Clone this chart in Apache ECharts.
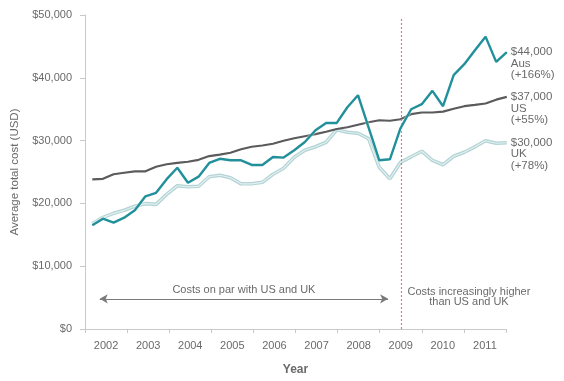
<!DOCTYPE html>
<html><head><meta charset="utf-8">
<script src="https://cdn.jsdelivr.net/npm/echarts@6/dist/echarts.min.js"></script>
<style>html,body{margin:0;padding:0;background:#fff}#c{width:564px;height:381px}</style>
</head><body><div id="c"></div>
<script>
// Categories
var years = ['2002','2003','2004','2005','2006','2007','2008','2009','2010','2011'];
var quarterNames = ['Q1','Q2','Q3','Q4'];
// Quarterly average total cost (USD)
var aus = [16560,17620,16990,17780,18950,21170,21730,23900,25710,23320,
           24300,26480,27140,26900,26900,26160,26160,27430,27330,28500,
           29820,31680,32840,32840,35340,37250,32080,26900,27060,32000,
           35020,35820,37940,35500,40430,42180,44400,46560,42550,44100];
var us  = [23880,23960,24680,24920,25150,25150,25870,26270,26480,26670,
           26980,27570,27810,28100,28660,29050,29250,29530,30010,30410,
           30730,31050,31440,31870,32160,32560,32950,33270,33190,33430,
           34230,34500,34500,34630,35100,35500,35710,35930,36540,36980];
var uk  = [16800,17830,18470,18950,19590,20010,19900,21490,22850,22690,
           22770,24280,24520,24120,23160,23160,23400,24680,25630,27400,
           28500,29050,29770,31760,31360,31200,30330,25790,23960,26590,
           27460,28340,26900,26190,27540,28180,29050,30010,29610,29690];
var endLabels = {
  aus: ['$44,000','Aus','(+166%)'],
  us:  ['$37,000','US','(+55%)'],
  uk:  ['$30,000','UK','(+78%)']
};
var arrowSpan = [2002.35, 2009.2];
var arrowLevel = 4800;
var dividerYear = 2009.5;
var dividerTop = 49500;
var noteAnchor = [2011.12, 4800];

var quarters = [];
years.forEach(function(y){ quarterNames.forEach(function(q){ quarters.push(y+' '+q); }); });

var FONT = 'Liberation Sans';
var TXT = '#6a6a6a';

function endLbl(lines){
  return {show:true, formatter: lines.join('\n'), distance:4, color:TXT,
          fontFamily:FONT, fontSize:11.5, lineHeight:11.5, offset:[0,11.5], align:'left'};
}

var chart = echarts.init(document.getElementById('c'), null, {renderer:'canvas'});
chart.setOption({
  animation:false,
  textStyle:{fontFamily:FONT},
  grid:[
    {left:85, right:58, top:15, bottom:51.5, containLabel:false},
    {left:92.3, right:57.2, top:15, bottom:51.5, containLabel:false}
  ],
  xAxis:[
    {type:'category', gridIndex:0, data:years, boundaryGap:true,
     axisLine:{lineStyle:{color:'#c9c9c9', width:1}},
     axisTick:{show:true, length:4, interval:0, lineStyle:{color:'#c9c9c9'}},
     axisLabel:{color:TXT, fontSize:11, fontFamily:FONT, margin:11},
     name:'Year', nameLocation:'middle', nameGap:35,
     nameTextStyle:{color:TXT, fontSize:12, fontWeight:'bold', fontFamily:FONT}},
    {type:'category', gridIndex:1, data:quarters, boundaryGap:false, show:false},
    {type:'value', gridIndex:0, min:2002, max:2012, show:false}
  ],
  yAxis:[
    {type:'value', gridIndex:0, min:0, max:50000, interval:10000,
     axisLine:{show:true, lineStyle:{color:'#c9c9c9', width:1}},
     axisTick:{show:true, length:5, lineStyle:{color:'#c9c9c9'}},
     splitLine:{show:false},
     axisLabel:{color:TXT, fontSize:11, fontFamily:FONT, margin:13,
       formatter:function(v){ return '$'+v.toLocaleString('en-US'); }},
     name:'Average total cost (USD)', nameLocation:'middle', nameGap:64,
     nameTextStyle:{color:TXT, fontSize:11.5, fontFamily:FONT}},
    {type:'value', gridIndex:1, min:0, max:50000, show:false}
  ],
  series:[
    {name:'UK-base', type:'line', xAxisIndex:1, yAxisIndex:1, data:uk, symbol:'none',
     lineStyle:{color:'#b3d4d6', width:3.6}, z:2,
     endLabel:endLbl(endLabels.uk)},
    {name:'UK', type:'line', xAxisIndex:1, yAxisIndex:1, data:uk, symbol:'none',
     lineStyle:{color:'#e3efef', width:1.2}, z:3},
    {name:'US', type:'line', xAxisIndex:1, yAxisIndex:1, data:us, symbol:'none',
     lineStyle:{color:'#5b5b5d', width:2.2}, z:4,
     endLabel:endLbl(endLabels.us)},
    {name:'Aus', type:'line', xAxisIndex:1, yAxisIndex:1, data:aus, symbol:'none',
     lineStyle:{color:'#21909a', width:2.4, shadowColor:'#ffffff', shadowBlur:2}, z:5,
     endLabel:endLbl(endLabels.aus)},
    {name:'arrow', type:'line', xAxisIndex:2, yAxisIndex:0, data:[], symbol:'none', silent:true,
     markLine:{silent:true, animation:false, symbol:['arrow','arrow'], symbolSize:[7,8],
       data:[
         [{coord:[arrowSpan[0],arrowLevel]},
          {coord:[arrowSpan[1],arrowLevel]}]
       ],
       lineStyle:{color:'#7a7a7a', width:1, type:'solid'},
       label:{show:true, position:'middle', formatter:'Costs on par with US and UK', color:TXT,
             fontSize:11, fontFamily:FONT, distance:3}
     }},
    {name:'divider', type:'line', xAxisIndex:2, yAxisIndex:0, data:[], symbol:'none', silent:true,
     color:'#d7788e',
     markLine:{silent:true, animation:false, symbol:['none','none'],
       data:[
         [{coord:[dividerYear,0]}, {coord:[dividerYear,dividerTop]}]
       ],
       lineStyle:{color:'#d7788e', width:1.2, type:[2,2], opacity:1},
       label:{show:false}
     }}
  ]
});
// annotation text to the right of the divider
var p = chart.convertToPixel({xAxisIndex:2, yAxisIndex:0}, noteAnchor);
chart.setOption({graphic:[{type:'text', x:p[0], y:p[1]-12, silent:true,
  style:{text:'Costs increasingly higher\nthan US and UK', fill:TXT, font:'11px '+FONT,
  textAlign:'center', lineHeight:10}}]});
</script></body></html>
